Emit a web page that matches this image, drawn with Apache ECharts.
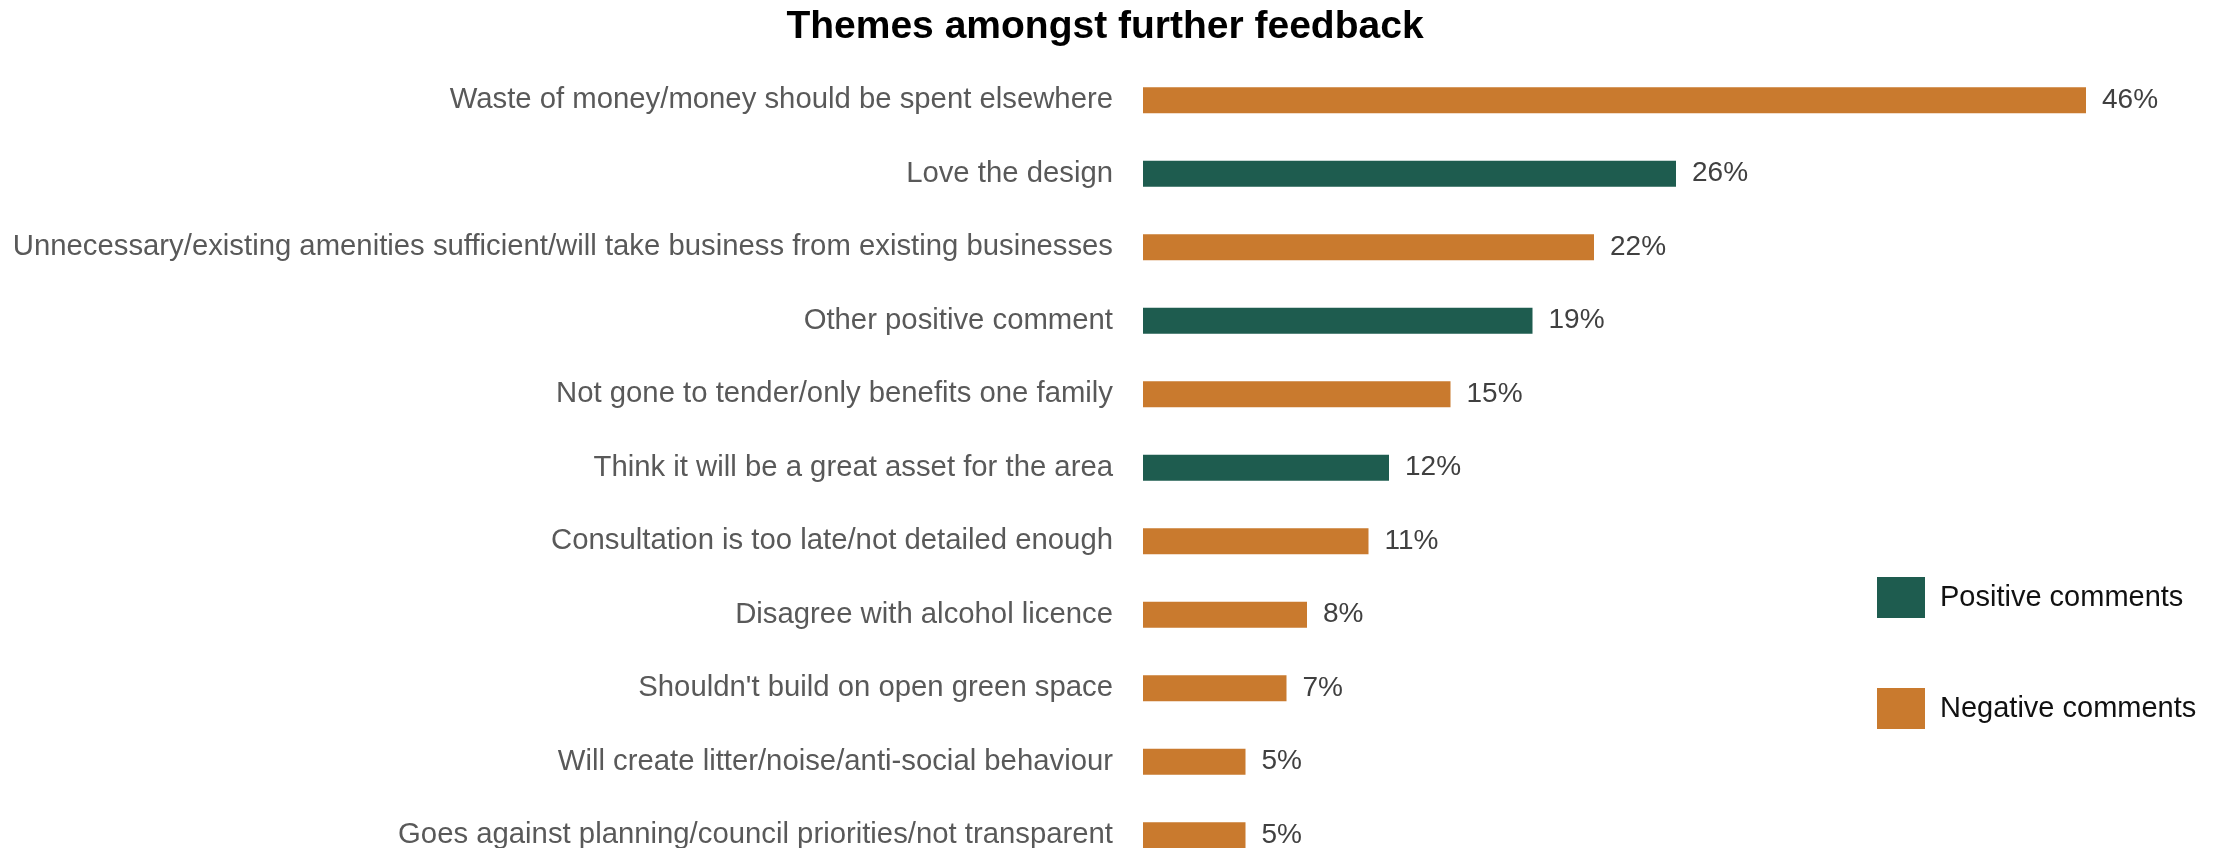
<!DOCTYPE html>
<html>
<head>
<meta charset="utf-8">
<title>Themes amongst further feedback</title>
<script src="https://cdn.jsdelivr.net/npm/echarts@6/dist/echarts.min.js"></script>
<style>
  html, body { margin: 0; padding: 0; background: #ffffff; }
  #chart { width: 2213px; height: 848px; }
</style>
</head>
<body>
<div id="chart"></div>
<script>
// Feedback themes, share of respondents (%), top to bottom
const categories = [
  'Waste of money/money should be spent elsewhere',
  'Love the design',
  'Unnecessary/existing amenities sufficient/will take business from existing businesses',
  'Other positive comment',
  'Not gone to tender/only benefits one family',
  'Think it will be a great asset for the area',
  'Consultation is too late/not detailed enough',
  'Disagree with alcohol licence',
  "Shouldn't build on open green space",
  'Will create litter/noise/anti-social behaviour',
  'Goes against planning/council priorities/not transparent'
];
const values = [46, 26, 22, 19, 15, 12, 11, 8, 7, 5, 5];
// 'pos' = positive comment, 'neg' = negative comment
const sentiment = ['neg', 'pos', 'neg', 'pos', 'neg', 'pos', 'neg', 'neg', 'neg', 'neg', 'neg'];
const seriesNames = ['Positive comments', 'Negative comments'];

const GREEN = '#1e5c4f';
const ORANGE = '#c97a2e';
const FONT = '"Liberation Sans", Arial, sans-serif';

const positiveData = values.map((v, i) => sentiment[i] === 'pos' ? v : '-');
const negativeData = values.map((v, i) => sentiment[i] === 'neg' ? v : '-');

const barLabel = {
  show: true,
  position: 'right',
  distance: 16,
  color: '#404040',
  fontFamily: FONT,
  fontSize: 28,
  formatter: p => p.value + '%'
};

const chart = echarts.init(document.getElementById('chart'), null, { renderer: 'canvas' });
chart.setOption({
  backgroundColor: '#ffffff',
  animation: false,
  title: {
    text: 'Themes amongst further feedback',
    left: 1100,
    textAlign: 'center',
    top: 3,
    textStyle: { fontFamily: FONT, fontWeight: 'bold', fontSize: 39, color: '#000000' }
  },
  legend: {
    orient: 'vertical',
    left: 1872,
    top: 572,
    itemWidth: 48,
    itemHeight: 41,
    itemGap: 70,
    icon: 'rect',
    data: seriesNames,
    textStyle: { fontFamily: FONT, fontSize: 29, color: '#111111', padding: [0, 0, 0, 10] }
  },
  grid: {
    left: 1143,
    top: 63.5,
    width: 1025,
    height: 808.5,
    containLabel: false,
    outerBoundsMode: 'none'
  },
  xAxis: {
    type: 'value',
    min: 0,
    max: 50,
    show: false
  },
  yAxis: {
    type: 'category',
    inverse: true,
    data: categories,
    axisLine: { show: false },
    axisTick: { show: false },
    axisLabel: { margin: 30, color: '#595959', fontFamily: FONT, fontSize: 29.3 }
  },
  series: [
    {
      name: seriesNames[0],
      type: 'bar',
      stack: 'theme',
      barWidth: 26,
      itemStyle: { color: GREEN },
      label: barLabel,
      data: positiveData
    },
    {
      name: seriesNames[1],
      type: 'bar',
      stack: 'theme',
      barWidth: 26,
      itemStyle: { color: ORANGE },
      label: barLabel,
      data: negativeData
    }
  ]
});
</script>
</body>
</html>
